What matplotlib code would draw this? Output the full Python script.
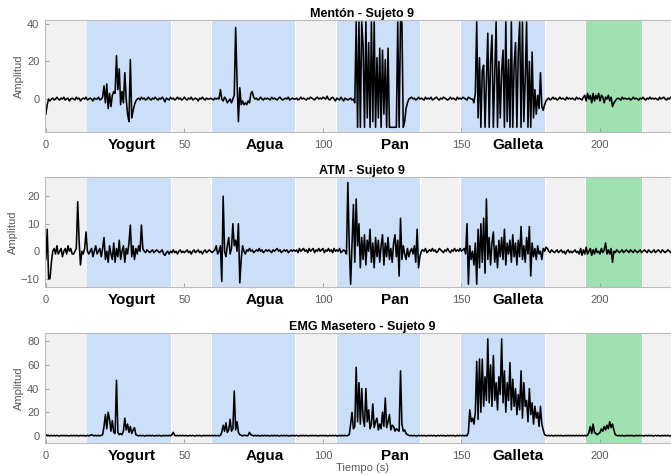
import matplotlib
matplotlib.use('Agg')
import matplotlib.pyplot as plt
import numpy as np

plt.rcParams['font.family'] = ['Liberation Sans', 'DejaVu Sans']

DT = 0.5  # seconds between samples

# Mentón - Sujeto 9, one row = 10 s
menton = [
    -8, -3, 0, -1, 0, 0.5, -0.5, 0, 1, 0, -0.5, 0.5, 0, 1, -0.5, 0, 0.5, -1, 0, 0.5,
    0, -0.5, 1, 0, 0.5, -1, 0, 0.5, 0, 1, -0.5, 0, 0.5, 0, -1, 0.5, 0, 0, 1, -0.5,
    0, 1, 7, -2, 8, -5, 3, -4, 2, 4, 3, 23, 5, 16, -3, 4, -2, 14, 0, -8,
    -12, 21, -10, -6, -3, -1, 0, 0.5, -0.5, 1, 0, 0.5, -0.5, 0, 1, 0, -0.5, 0.5, 0, 1,
    0, -0.5, 0.5, 0, 1, 0, -1.5, 0.5, 0, -0.5, 1, 0, 0.5, -0.5, 0, 1, 0, 0.5, -0.5, 0,
    1, 0, -0.5, 0.5, 0, 1, -0.5, 0, 0.5, 0, -1, 0.5, 0, 1, 0, -0.5, 0.5, 0, 0, 0.5,
    0, -0.5, 0.5, 0, 0.5, 0, 5, 0, -1, 1, 0, -2, -1, 0, -2, 0, 2, 38, 10, -12,
    6, -3, -1, -3, -2, -3, -1, -2, 3, 4, 1, 0, 0.5, -0.5, 0, 1, 0, -0.5, 0.5, 0,
    0.5, 0, -0.5, 1, 0, 0.5, 0, -0.5, 0.5, 1, 0, -0.5, 0, 0.5, 0, 1, -0.5, 0, 0.5, 0,
    0, 0.5, -0.5, 0, 1, 0, 0.5, 0, -0.5, 0.5, 0, 1, 0.5, 0, -0.5, 0.5, 1, 0, 0.5, 0,
    1, 0.5, 0, 1.5, 0, -0.5, 0.5, 1, 0, -1, 0.5, 0, -0.5, 1, 0, -1, 0.5, 0, -0.5, 0,
    0.5, -0.5, 0, -2, 41, -15, 41, -15, 41, 28, -15, 41, -10, 30, -15, 41, -12, 41, -15, 22,
    -10, 27, -15, 26, -8, 21, -15, 27, -15, -15, -15, -15, -15, -15, 41, -15, 41, 41, -15, -12,
    -5, -2, 0, 0.5, 1, 0, 0.5, -0.5, 0, 1, 0, 0.5, 0, -0.5, 1, 0, 0.5, 0, 1, -0.5,
    0, 0.5, 1, 0, -0.5, 0.5, 0, 1, 0.5, 0, -0.5, 0, 1, 0, 0.5, 0, -0.5, 1, 0, 0.5,
    0, 1, 0.5, 0, -0.5, 1, 0.5, 0, 0, -2, 3, 41, -10, 22, -15, 15, 18, -15, 10, 35,
    -15, 20, 34, -15, 12, 41, -15, 20, -10, 15, 26, -15, 41, -12, 21, -15, 41, -15, 18, 30,
    -15, 25, 41, -15, 41, -12, 10, 41, -15, 20, -15, 25, -10, 5, -8, 2, -5, 14, -4, -6,
    -3, -1, 0, 0.5, -0.5, 0, 1, 0, 0.5, -0.5, 0, 1, 0, 0.5, 0, -0.5, 1, 0, 0.5, 0,
    0.5, 0, -0.5, 1, 0, 0.5, 0, -0.5, 1, 2, -1, 3, 0, 2, -2, 3, -1, 2, 0, 3,
    -1, 2, 1, -2, 1, 0, 2, -1, 1, -4, -2, -1, 0, 0.5, 0, -0.5, 1, 0, 0.5, 0,
    0, 0.5, -0.5, 0, 1, 0, 0.5, 0, -0.5, 0.5, 0, 1, 0, -0.5, 0.5, 0, 1, 0, 0.5, 0,
    0.5, 0, -0.5, 1, 0, 0.5, 1, 0, -0.5, 0.5, 0, 1, 0.5, 0, -0.5, 0, 1, 0.5, 0, 0.5,
]

# ATM - Sujeto 9
atm = [
    -3, 8, -10, -10, -4, 0, 1, -1, 2, -1, 0, 1, -2, 0, 1, -1, 2, 0, 1, -1,
    -1, 0, 1, 18, 4, -5, 0, -1, 1, 7, 0, -1, 0, 1, -2, 0, 2, -1, 0, 1,
    -2, 1, 5, -3, 0, -4, 2, -1, -3, 3, -4, 1, -2, 4, -3, 0, 2, -4, 1, -1,
    3, 9.5, -2, 2, -3, 1, -1, 2, 0, 9.5, 1, 0, -0.5, 0.5, 0, -0.5, 0, 0.5, -0.5, 0,
    0.5, 0, -0.5, 0, 0.5, -1, -1.5, -0.5, 0, -1, 0, -0.5, 0.5, -0.5, 0, -1, 0, 0.5, -0.5, 0,
    -0.5, 0, 0.5, -0.5, 0, -1, 0, 0.5, -0.5, 0, 0.5, -0.5, 0, -1, 0, 0.5, -0.5, 0, 0.5, 0,
    -0.5, 0, 0.5, 2, -1, 0, 2, -11, 20, 0, -2, 2, 5, -1, 1, 10, 2, 4, 0, 10,
    -11.5, -3, 2, 0, -1, 0.5, 0, 1, 0, 0.5, -0.5, 0, 0.5, 0, 1, 0, 0.5, -0.5, 0, 0.5,
    0, 0.5, 0, -0.5, 0.5, 0, 0.5, 1, 0, 0.5, -0.5, 0, 0.5, 0, 0.5, -0.5, 0, 0.5, 0, 0.5,
    0, 0.5, -0.5, 1, 0, 0.5, 1, 0, 0.5, -0.5, 1, 0, 0.5, 1, -0.5, 0.5, 0, 1, 0, 0.5,
    1, -0.5, 0.5, 0, 1, 0, 0.5, -0.5, 1, 0, 0.5, 0, 1, -0.5, 0, 0.5, 0, -1, 25, 2,
    -12, 3, 17, -4, 19, 2, 10, -6, 5, -3, 6, -5, 4, 0, 8, -4, 3, -6, 5, -2,
    4, -4, 2, 6, -5, 3, -2, 5, -3, 1, -4, 3, 6, -2, 4, -9, 12, -3, 2, -1,
    -3, 1, -2, 0, 1, -1, 2, -4, 8, -6, -2, 0, 0.5, 0, 1, -0.5, 0, 0.5, 0, 1,
    0, 0.5, -0.5, 0, 1, 0.5, 0, -0.5, 0.5, 0, 1, 0, -0.5, 0.5, 0, 1, 0, 0.5, 0, 1,
    0, 0.5, 1, -1, 10, -12, 2, -3, 0, -5, 3, -12, 8, -6, 10, -4, 12, -8, 19, -3,
    5, -5, 3, 7, -4, 2, -6, 4, -2, 5, -3, 8, -5, 3, -1, 4, -4, 6, -2, 3,
    -5, 4, -2, 9, -3, 2, -4, 5, -1, 9, -9, 3, -2, 1, -3, 2, -1, 0, -3, 1,
    0, 1.5, 1, 0, -0.5, 0.5, 0, -0.5, 0, 0.5, -0.5, 0, 0.5, -0.5, 0, -1, 0, 0.5, -0.5, 0,
    -0.5, 0, 0.5, -0.5, 0, -1, 1, -1.5, 0.5, -1, 1.5, -1, 0, 1, -1.5, 0.5, -1, 1, -0.5, 0,
    -1, 1, -0.5, 0.5, 3, -1, 0.5, -1, 1, -4, 0, -0.5, 0.5, 0, -0.5, 0, 0.5, -0.5, 0, 0.5,
    0, -0.5, 0.5, 0, -0.5, 0.5, 0, -0.5, 0, 0.5, -0.5, 0, 0.5, 0, -0.5, 0.5, 0, -0.5, 0, 0.5,
    -0.5, 0, 0.5, 0, -0.5, 0.5, 0, -0.5, 0, 0.5, 0, -0.5, 0.5, 0, -0.5, 0, 0.5, 0, -0.5, 0,
]

# EMG Masetero - Sujeto 9
masetero = [
    1, 0.5, 0.5, 0, 0.5, 0, 0.5, 0, 0.5, 0, 0, 0.5, 0, 0.5, 0, 0.5, 0, 0, 0.5, 0,
    0.5, 0, 0.5, 0, 0, 0.5, 0, 0.5, 0, 0, 0.5, 0, 0.5, 1, 0.5, 0, 0.5, 0, 0.5, 0,
    0.5, 1, 8, 18, 6, 20, 14, 4, 13, 3, 2, 47, 3, 1, 2, 1, 4, 15, 5, 10,
    3, 8, 2, 5, 7, 1, 0.5, 0, 0.5, 0, 0.5, 0, 0, 0.5, 0, 0.5, 0, 0.5, 0, 0,
    0.5, 0, 0.5, 0, 0, 0.5, 0, 0.5, 0, 0.5, 0, 1, 3, 0.5, 0, 0.5, 0, 0.5, 0, 0.5,
    0, 0.5, 0, 0, 0.5, 0, 0.5, 0, 0, 0.5, 0, 0.5, 0, 0, 0.5, 0, 0.5, 0, 0.5, 0,
    0.5, 0, 0.5, 0, 0.5, 0, 0.5, 3, 9, 4, 11, 3, 5, 14, 4, 6, 38, 5, 12, 3,
    1, 0.5, 0, 0.5, 0.5, 0, 0.5, 3, 1, 0.5, 0, 0.5, 0, 0.5, 0, 0, 0.5, 0, 0.5, 0,
    0.5, 0, 0, 0.5, 0, 0.5, 0, 0.5, 0, 0, 0.5, 0, 0.5, 0, 0.5, 0, 0, 0.5, 0, 0.5,
    0, 0.5, 0, 0, 0.5, 0, 0.5, 0, 0.5, 0, 0, 0.5, 0, 0.5, 0, 0.5, 0, 0, 0.5, 0,
    0.5, 0, 0.5, 0, 0, 0.5, 0, 0.5, 0, 0.5, 0, 0, 0.5, 0, 0.5, 0, 0.5, 0, 0.5, 1,
    10, 20, 6, 8, 58, 12, 45, 10, 40, 15, 8, 40, 12, 22, 6, 10, 27, 7, 12, 15,
    5, 10, 6, 20, 8, 32, 7, 12, 18, 5, 9, 8, 4, 6, 5, 4, 55, 10, 4, 5,
    2, 1, 0.5, 0, 0.5, 0, 0.5, 0, 0, 0.5, 0, 0.5, 0, 0.5, 0, 0, 0.5, 0, 0.5, 0,
    0.5, 0, 0, 0.5, 0, 0.5, 0, 0.5, 0, 0, 0.5, 0, 0.5, 0, 0.5, 0, 0, 0.5, 0, 0.5,
    0, 0.5, 0, 0.5, 0, 3, 22, 12, 15, 10, 20, 63, 14, 65, 20, 65, 25, 50, 30, 82,
    28, 60, 25, 68, 30, 45, 22, 50, 35, 82, 28, 55, 20, 45, 30, 62, 22, 48, 25, 40,
    18, 35, 22, 55, 15, 45, 25, 30, 12, 40, 18, 28, 10, 25, 15, 20, 8, 25, 10, 5,
    1, 0.5, 0, 0.5, 0, 0.5, 0, 0, 0.5, 0, 0.5, 0, 0.5, 0, 0, 0.5, 0, 0.5, 0, 0.5,
    0, 0.5, 0, 0.5, 0, 0.5, 0, 0.5, 0, 0.5, 0, 0.5, 3, 8, 2, 10, 3, 2, 1, 2,
    3, 6, 4, 8, 5, 9, 6, 12, 7, 10, 5, 1, 0.5, 0, 0.5, 0, 0.5, 0, 0, 0.5,
    0, 0.5, 0, 0.5, 0, 0, 0.5, 0, 0.5, 0, 0.5, 0, 0, 0.5, 0, 0.5, 0, 0.5, 0, 0,
    0.5, 0, 0.5, 0, 0, 0.5, 0, 0.5, 0, 0.5, 0, 0, 0.5, 0, 0.5, 0, 0.5, 0, 0.5, 0,
]

TITLES = ['Mentón - Sujeto 9', 'ATM - Sujeto 9', 'EMG Masetero - Sujeto 9']
FOODS = ['Yogurt', 'Agua', 'Pan', 'Galleta']
FOOD_SPANS = [(15, 45), (60, 90), (105, 135), (150, 180)]
REST_SPANS = [(0, 14.8), (45.4, 59.6), (90.4, 104.6), (135.4, 149.6), (180.4, 194.6), (215.4, 232)]
GREEN_SPAN = (195, 215)
FOOD_LABEL_X = [31, 79, 126, 170.5]

YLIMS = [(-17.5, 42), (-13, 27), (-6, 87)]
YTICKS = [[0, 20, 40], [-10, 0, 10, 20], [0, 20, 40, 60, 80]]

# axes boxes in pixels from the top: (top, bottom)
AX_ROWS = [(20, 132), (177, 287), (333, 443)]
W, H = 671, 475
LEFT_PX, RIGHT_PX = 45, 679

BLUE = '#cbdff8'
GREEN = '#9fe1b0'
GRAY = '#f1f1f1'
TICK_COLOR = '#5a5a5a'


def draw_panel(fig, row, values, title, xlabel=None):
    top, bottom = AX_ROWS[row]
    ax = fig.add_axes([LEFT_PX / W, 1 - bottom / H, (RIGHT_PX - LEFT_PX) / W, (bottom - top) / H])

    for a, b in REST_SPANS:
        ax.axvspan(a, b, color=GRAY, lw=0, zorder=0)
    for a, b in FOOD_SPANS:
        ax.axvspan(a, b, color=BLUE, lw=0, zorder=0)
    ax.axvspan(*GREEN_SPAN, color=GREEN, lw=0, zorder=0)

    t = np.arange(len(values)) * DT
    ax.plot(t, values, color='black', lw=1.15, zorder=2)

    ax.set_xlim(-0.3, 228.5)
    ax.set_ylim(*YLIMS[row])
    ax.set_xticks([0, 50, 100, 150, 200])
    ax.set_yticks(YTICKS[row])
    ax.tick_params(direction='in', length=3, width=0.6, colors='#999999',
                   labelcolor=TICK_COLOR, labelsize=8, pad=4)
    ax.tick_params(axis='x', pad=6)
    for s in ax.spines.values():
        s.set_color('#bbbbbb')
        s.set_linewidth(0.8)

    ax.set_title(title, fontsize=9, fontweight='bold', pad=2)
    ax.set_ylabel('Amplitud', fontsize=8, color=TICK_COLOR, labelpad=2)

    for name, x in zip(FOODS, FOOD_LABEL_X):
        ax.annotate(name, xy=(x, 0), xycoords=('data', 'axes fraction'),
                    xytext=(0, -4), textcoords='offset points',
                    ha='center', va='top', fontsize=11, fontweight='bold')

    if xlabel:
        ax.set_xlabel(xlabel, fontsize=8, color=TICK_COLOR, labelpad=1)
    return ax


def main():
    fig = plt.figure(figsize=(W / 100, H / 100), dpi=100)
    draw_panel(fig, 0, menton, TITLES[0])
    draw_panel(fig, 1, atm, TITLES[1])
    draw_panel(fig, 2, masetero, TITLES[2], xlabel='Tiempo (s)')
    fig.savefig('out.png', dpi=100)


if __name__ == '__main__':
    main()
